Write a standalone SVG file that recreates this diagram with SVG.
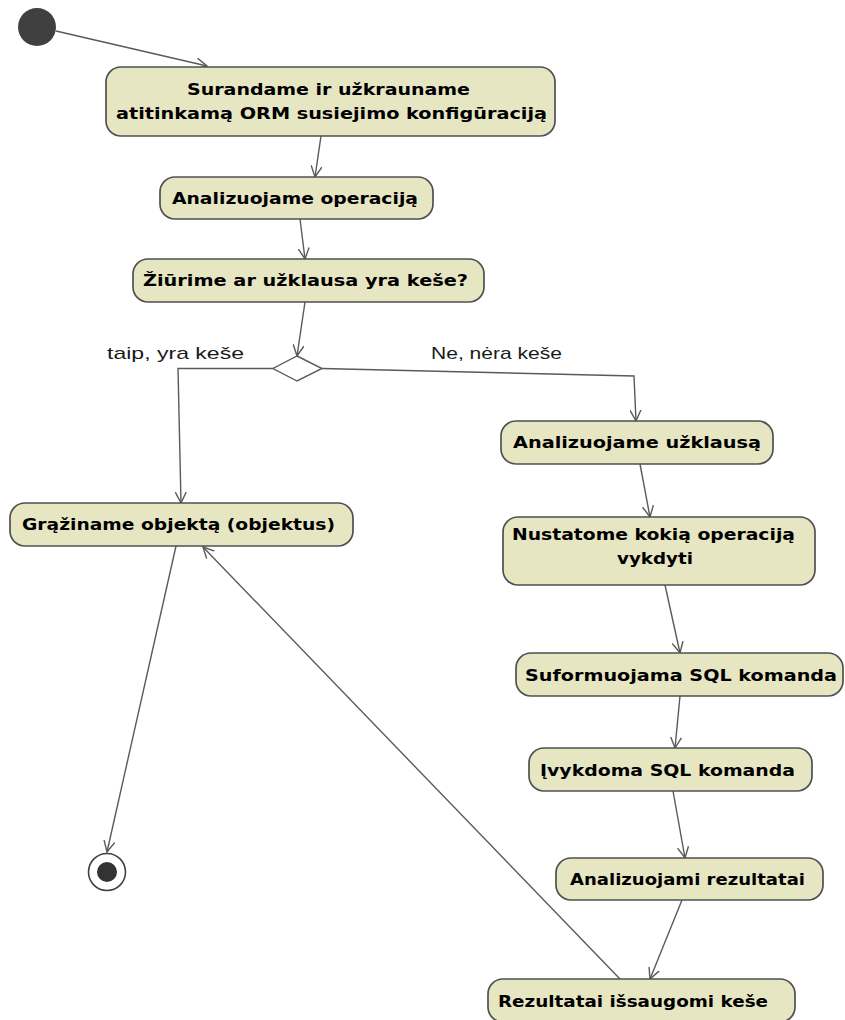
<svg xmlns="http://www.w3.org/2000/svg" width="845" height="1020" viewBox="0 0 845 1020">
  <style>
    .act rect { fill: #e7e6c3; stroke: #505050; stroke-width: 1.7; }
    .act text { font-family: "DejaVu Sans", Verdana, sans-serif; font-weight: bold; font-size: 16.5px; fill: #000; }
    .lbl { font-family: "Liberation Sans", Arial, sans-serif; font-size: 17px; fill: #1a1a1a; }
    .edge { fill: none; stroke: #5a5a5a; stroke-width: 1.4; }
  </style>
  <defs>
    <marker id="arrow" viewBox="0 0 12 12" markerWidth="12" markerHeight="12" refX="11" refY="6" orient="auto" markerUnits="userSpaceOnUse">
      <path d="M0,0.5 L11,6 L0,11.5" fill="none" stroke="#5a5a5a" stroke-width="1.4"/>
    </marker>
  </defs>

  <rect width="845" height="1020" fill="#ffffff"/>

  <!-- connectors -->
  <g id="connectors">
    <path class="edge" d="M56,31 L207,66" marker-end="url(#arrow)"/>
    <path class="edge" d="M321,136 L315,177" marker-end="url(#arrow)"/>
    <path class="edge" d="M300,219 L305,259" marker-end="url(#arrow)"/>
    <path class="edge" d="M305,302 L297,356" marker-end="url(#arrow)"/>
    <path class="edge" d="M273,368.5 L178,368.5 L181,503" marker-end="url(#arrow)"/>
    <path class="edge" d="M322,368.5 L634,376 L636,421" marker-end="url(#arrow)"/>
    <path class="edge" d="M640,464 L650,517" marker-end="url(#arrow)"/>
    <path class="edge" d="M665,585 L680,653" marker-end="url(#arrow)"/>
    <path class="edge" d="M680,696 L675,748" marker-end="url(#arrow)"/>
    <path class="edge" d="M673,791 L685,858" marker-end="url(#arrow)"/>
    <path class="edge" d="M682,900 L650,979" marker-end="url(#arrow)"/>
    <path class="edge" d="M620,979 L203,547" marker-end="url(#arrow)"/>
    <path class="edge" d="M176,546 L107,852" marker-end="url(#arrow)"/>
    <text class="lbl" x="107" y="359" textLength="137" lengthAdjust="spacingAndGlyphs">taip, yra keše</text>
    <text class="lbl" x="431" y="359" textLength="131" lengthAdjust="spacingAndGlyphs">Ne, nėra keše</text>
  </g>

  <!-- initial node -->
  <g id="start">
    <circle cx="37" cy="27" r="19" fill="#404040"/>
  </g>

  <g id="n1" class="act">
    <rect x="106" y="67" width="449" height="69" rx="15"/>
    <text x="187" y="95" textLength="283" lengthAdjust="spacingAndGlyphs">Surandame ir užkrauname</text>
    <text x="116" y="119" textLength="431" lengthAdjust="spacingAndGlyphs">atitinkamą ORM susiejimo konfigūraciją</text>
  </g>

  <g id="n2" class="act">
    <rect x="160" y="177" width="273" height="42" rx="15"/>
    <text x="172" y="204" textLength="246" lengthAdjust="spacingAndGlyphs">Analizuojame operaciją</text>
  </g>

  <g id="n3" class="act">
    <rect x="133" y="259" width="351" height="43" rx="15"/>
    <text x="143" y="286" textLength="325" lengthAdjust="spacingAndGlyphs">Žiūrime ar užklausa yra keše?</text>
  </g>

  <!-- decision -->
  <g id="decision">
    <polygon points="297,356 322,368.5 297,381 273,368.5" fill="#ffffff" stroke="#5a5a5a" stroke-width="1.4"/>
  </g>

  <g id="n4" class="act">
    <rect x="10" y="503" width="343" height="43" rx="15"/>
    <text x="22" y="530" textLength="313" lengthAdjust="spacingAndGlyphs">Grąžiname objektą (objektus)</text>
  </g>

  <g id="n5" class="act">
    <rect x="501" y="421" width="272" height="43" rx="15"/>
    <text x="513" y="448" textLength="248" lengthAdjust="spacingAndGlyphs">Analizuojame užklausą</text>
  </g>

  <g id="n6" class="act">
    <rect x="503" y="517" width="312" height="68" rx="15"/>
    <text x="512" y="540" textLength="283" lengthAdjust="spacingAndGlyphs">Nustatome kokią operaciją</text>
    <text x="617" y="564" textLength="76" lengthAdjust="spacingAndGlyphs">vykdyti</text>
  </g>

  <g id="n7" class="act">
    <rect x="516" y="653" width="327" height="43" rx="15"/>
    <text x="525" y="681" textLength="312" lengthAdjust="spacingAndGlyphs">Suformuojama SQL komanda</text>
  </g>

  <g id="n8" class="act">
    <rect x="529" y="748" width="283" height="43" rx="15"/>
    <text x="540" y="776" textLength="255" lengthAdjust="spacingAndGlyphs">Įvykdoma SQL komanda</text>
  </g>

  <g id="n9" class="act">
    <rect x="556" y="858" width="267" height="42" rx="15"/>
    <text x="570" y="885" textLength="235" lengthAdjust="spacingAndGlyphs">Analizuojami rezultatai</text>
  </g>

  <g id="n10" class="act">
    <rect x="488" y="979" width="307" height="43" rx="15"/>
    <text x="498" y="1007" textLength="270" lengthAdjust="spacingAndGlyphs">Rezultatai išsaugomi keše</text>
  </g>

  <!-- final node -->
  <g id="end">
    <circle cx="107" cy="872" r="18.5" fill="#ffffff" stroke="#404040" stroke-width="1.6"/>
    <circle cx="107" cy="872" r="10" fill="#333333"/>
  </g>
</svg>
